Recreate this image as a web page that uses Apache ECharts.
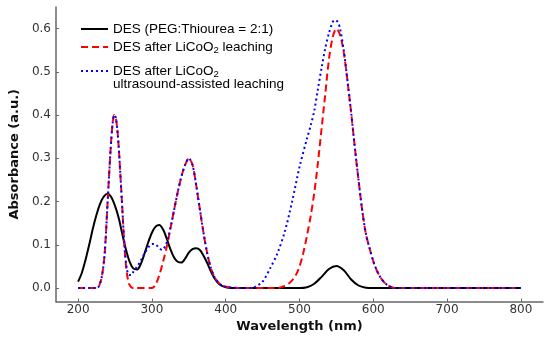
<!DOCTYPE html>
<html><head><meta charset="utf-8">
<script src="https://cdn.jsdelivr.net/npm/echarts@6/dist/echarts.min.js"></script>
<style>html,body{margin:0;padding:0;background:#fff}#c{width:550px;height:341px}</style>
</head><body><div id="c"></div>
<script>
// ---- data ----
var seriesNames = ['DES (PEG:Thiourea = 2:1)', 'DES after LiCoO2 leaching', 'DES after LiCoO2 ultrasound-assisted leaching'];
var xTicks = [200, 300, 400, 500, 600, 700, 800];
var yTicks = [0, 0.1, 0.2, 0.3, 0.4, 0.5, 0.6];

var desX = [200,205,210,215,220,225,230,235,240,245,250,255,260,265,270,275,280,285,290,295,300,305,310,315,320,325,330,335,340,345,350,355,360,365,370,375,380,385,390,395,400,410,450,500,510,520,530,540,550,560,570,580,590,600,700,800];
var desY = [0.015,0.035,0.065,0.1,0.138,0.170,0.196,0.212,0.218,0.210,0.190,0.162,0.124,0.088,0.060,0.045,0.043,0.056,0.080,0.106,0.128,0.142,0.146,0.136,0.115,0.090,0.071,0.061,0.059,0.068,0.082,0.090,0.092,0.088,0.075,0.058,0.038,0.022,0.011,0.005,0.002,0,0,0,0.002,0.01,0.026,0.044,0.051,0.041,0.020,0.006,0.001,0,0,0];

var leachX = [200,225,228,232,236,240,244,247,249,251,254,257,260,263,266,269,272,275,300,305,310,315,320,325,330,335,340,345,350,355,360,365,370,375,380,385,390,395,400,410,420,470,480,485,490,495,500,505,510,515,520,525,530,535,540,545,550,555,560,565,570,575,580,585,590,595,600,605,610,615,620,625,630,800];
var leachY = [0,0,0.004,0.025,0.08,0.2,0.32,0.385,0.40,0.395,0.35,0.27,0.18,0.09,0.035,0.01,0.002,0,0,0.008,0.03,0.06,0.095,0.137,0.18,0.222,0.258,0.285,0.300,0.285,0.238,0.182,0.127,0.080,0.046,0.025,0.013,0.006,0.003,0.001,0,0,0.005,0.01,0.018,0.03,0.05,0.08,0.12,0.165,0.22,0.29,0.37,0.45,0.53,0.58,0.60,0.585,0.545,0.48,0.406,0.325,0.25,0.18,0.125,0.092,0.062,0.04,0.024,0.013,0.006,0.002,0,0];

var usX = [200,225,228,232,236,240,244,247,249,251,254,257,260,263,266,269,272,275,280,285,290,295,300,305,310,314,318,322,327,330,335,340,345,350,355,360,365,370,375,380,385,390,395,400,410,420,435,440,450,460,470,480,490,500,510,515,520,525,530,535,540,545,548,552,555,560,565,570,575,580,585,590,595,600,605,610,615,620,625,630,800];
var usY = [0,0,0.004,0.025,0.08,0.2,0.32,0.385,0.40,0.395,0.35,0.27,0.18,0.095,0.045,0.03,0.03,0.038,0.05,0.064,0.08,0.094,0.102,0.101,0.092,0.088,0.097,0.116,0.155,0.18,0.222,0.258,0.285,0.300,0.285,0.238,0.182,0.127,0.080,0.046,0.025,0.013,0.006,0.003,0.001,0,0,0.003,0.015,0.045,0.08,0.13,0.2,0.28,0.345,0.375,0.41,0.46,0.51,0.555,0.59,0.615,0.62,0.615,0.60,0.55,0.48,0.406,0.325,0.25,0.18,0.125,0.092,0.062,0.04,0.024,0.013,0.006,0.002,0,0];

function pairs(xs, ys) { return xs.map(function (x, i) { return [x, ys[i]]; }); }

var rich = {
  a: { fontFamily: 'Liberation Sans', fontSize: 13.5, color: '#000' },
  s: { fontFamily: 'Liberation Sans', fontSize: 9.5, color: '#000', padding: [6, 0, 0, 0] }
};
function legendLabel(name) {
  if (name === seriesNames[0]) return '{a|DES (PEG:Thiourea = 2:1)}';
  if (name === seriesNames[1]) return '{a|DES after LiCoO}{s|2}{a| leaching}';
  return '{a|DES after LiCoO}{s|2}';
}
function mkLegend(i, top) {
  return {
    data: [seriesNames[i]], left: 80, top: top, padding: 0,
    itemWidth: 27, itemHeight: 14, selectedMode: false,
    itemStyle: { opacity: 0 },
    formatter: legendLabel, textStyle: { rich: rich, lineHeight: 16 }
  };
}

var chart = echarts.init(document.getElementById('c'), null, { renderer: 'canvas' });
chart.setOption({
  animation: false,
  backgroundColor: '#fff',
  grid: { left: 47, right: 7, top: 7, bottom: 39.5 },
  legend: [mkLegend(0, 21), mkLegend(1, 39), mkLegend(2, 63)],
  graphic: [{
    type: 'text', left: 113, top: 77,
    style: { text: 'ultrasound-assisted leaching', font: '13.5px "Liberation Sans"', fill: '#000' }
  }],
  xAxis: {
    type: 'value', min: 170, max: 830,
    name: 'Wavelength (nm)', nameLocation: 'middle', nameGap: 8,
    nameTextStyle: { fontFamily: 'DejaVu Sans', fontWeight: 'bold', fontSize: 13, color: '#111' },
    axisLine: { onZero: false, lineStyle: { color: '#666', width: 1.5 } },
    axisTick: { inside: true, length: 3, customValues: xTicks, lineStyle: { color: '#666' } },
    axisLabel: { customValues: xTicks, margin: 2, fontFamily: 'DejaVu Sans', fontSize: 12, color: '#333' },
    splitLine: { show: false }
  },
  yAxis: {
    type: 'value', min: -0.031, max: 0.65,
    name: 'Absorbance (a.u.)', nameLocation: 'middle', nameGap: 25, nameRotate: 90,
    nameTextStyle: { fontFamily: 'DejaVu Sans', fontWeight: 'bold', fontSize: 13, color: '#111' },
    axisLine: { show: true, onZero: false, lineStyle: { color: '#666', width: 1.5 } },
    axisTick: { show: true, inside: true, length: 3, customValues: yTicks, lineStyle: { color: '#666' } },
    axisLabel: { customValues: yTicks, margin: 5, fontFamily: 'DejaVu Sans', fontSize: 12, color: '#333',
      formatter: function (v) { return v.toFixed(1); } },
    splitLine: { show: false }
  },
  series: [
    { name: seriesNames[0], type: 'line', data: pairs(desX, desY), showSymbol: false, symbol: 'none',
      smooth: 0.3, lineStyle: { color: '#000', width: 2 }, itemStyle: { color: '#000' }, z: 2 },
    { name: seriesNames[1], type: 'line', data: pairs(leachX, leachY), showSymbol: false, symbol: 'none',
      smooth: 0.3, lineStyle: { color: '#ff0000', width: 2, type: [7, 4] }, itemStyle: { color: '#ff0000' }, z: 3 },
    { name: seriesNames[2], type: 'line', data: pairs(usX, usY), showSymbol: false, symbol: 'none',
      smooth: 0.3, lineStyle: { color: '#0000ff', width: 2, type: [2, 3] }, itemStyle: { color: '#0000ff' }, z: 4 }
  ]
});
</script></body></html>
